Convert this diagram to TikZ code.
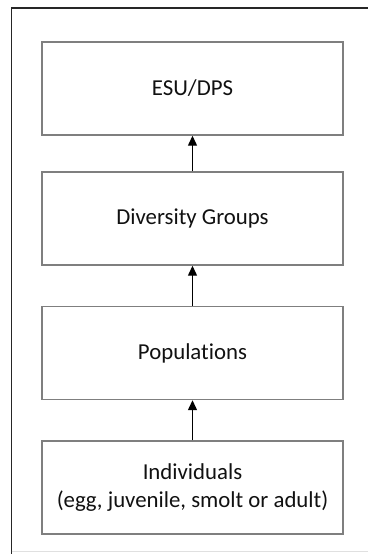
\documentclass[tikz,border=0pt]{standalone}
\usepackage{fontspec}
\setmainfont{Carlito}[Ligatures=NoCommon]
\usetikzlibrary{arrows.meta}
\definecolor{boxgray}{HTML}{7F7F7F}
\definecolor{txt}{HTML}{111111}
\begin{document}
\begin{tikzpicture}[x=1pt,y=-1pt,
  levelbox/.style={draw=boxgray,line width=1.4pt,fill=white,minimum width=301pt,minimum height=93pt,inner sep=0pt,align=center,text=txt,font=\fontsize{22.8}{28.5}\selectfont},
  uparrow/.style={draw=black,line width=1.3pt,-{Triangle[length=10pt,width=9pt]}}]
\useasboundingbox (0,0) rectangle (368,554);
\draw[line width=1.3pt,color=black!85] (11.5,554) -- (11.5,8) -- (368,8);
\draw[line width=0.8pt,color=black!12] (11.5,551.5) -- (368,551.5);
\node[levelbox] (esu) at (192.5,88.5) {ESU/DPS};
\node[levelbox] (div) at (192.5,218.5) {Diversity Groups};
\node[levelbox] (pop) at (192.5,353) {Populations};
\node[levelbox] (ind) at (192.5,487.5) {Individuals\\(egg, juvenile, smolt or adult)};
\draw[uparrow] (div.north) -- (esu.south);
\draw[uparrow] (pop.north) -- (div.south);
\draw[uparrow] (ind.north) -- (pop.south);
\end{tikzpicture}
\end{document}
